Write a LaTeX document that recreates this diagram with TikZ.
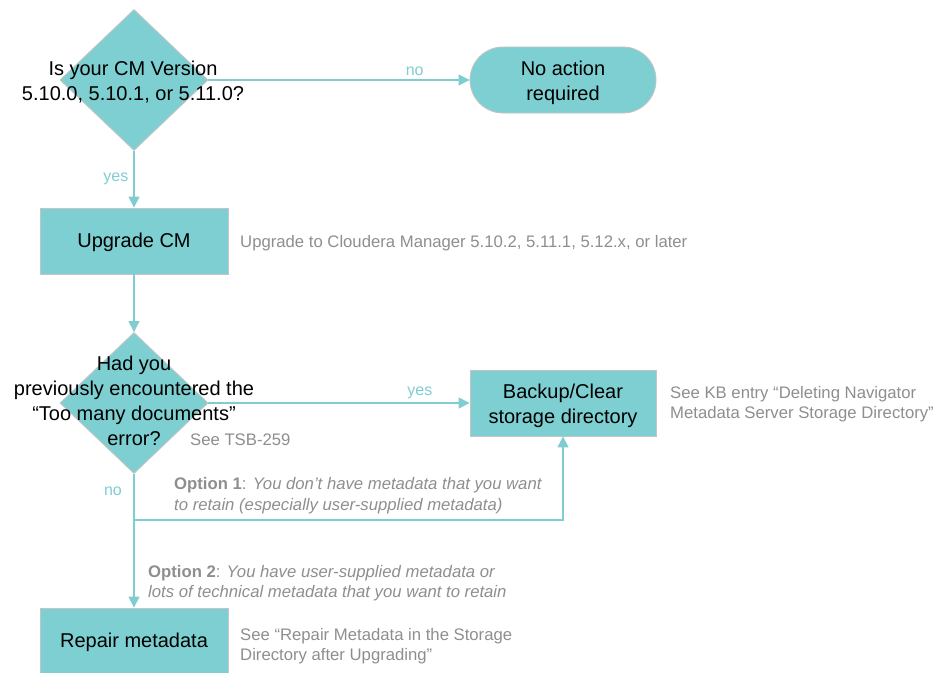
\documentclass[tikz,border=0pt]{standalone}
\usepackage{fontspec}
\setmainfont{Liberation Sans}
\usetikzlibrary{shapes.geometric,arrows.meta}
\definecolor{teal1}{HTML}{7ECFD1}
\definecolor{tealline}{HTML}{7FCDD0}
\definecolor{edgegray}{HTML}{C4C4C4}
\definecolor{txtgray}{HTML}{8E8E8E}
\tikzset{
  box/.style={rectangle, fill=teal1, draw=edgegray, line width=0.9pt, minimum width=188pt, minimum height=66pt, inner sep=0pt},
  term/.style={rectangle, rounded corners=33pt, fill=teal1, draw=edgegray, line width=0.9pt, minimum width=186pt, minimum height=66pt, inner sep=0pt},
  dia/.style={diamond, fill=teal1, draw=edgegray, line width=0.9pt, minimum width=148pt, minimum height=141pt, inner sep=0pt},
  main/.style={font=\fontsize{20}{25}\selectfont, align=center, text=black, inner sep=0pt},
  note/.style={font=\fontsize{16.7}{19.5}\selectfont, align=left, text=txtgray, anchor=west, inner sep=0pt},
  lab/.style={font=\fontsize{16}{18}\selectfont, text=tealline, inner sep=0pt},
  arr/.style={draw=tealline, line width=1.3pt, -{Triangle[length=11pt,width=11pt]}},
}
\begin{document}
\begin{tikzpicture}[x=1pt,y=-1pt]
\useasboundingbox (0,0) rectangle (936,672);
% shapes
\node[dia] (d1) at (134,80) {};
\node[main] (d1t) at (133,82.5) {Is your CM Version\\5.10.0, 5.10.1, or 5.11.0?};
\node[term] (noact) at (563,80) {};
\node[main] (noactt) at (563,83) {No action\\required};
\node[box] (upg) at (134,241) {};
\node[main] (upgt) at (134,242) {Upgrade CM};
\node[note] (upgn) at (240,243) {Upgrade to Cloudera Manager 5.10.2, 5.11.1, 5.12.x, or later};
\node[dia] (d2) at (134,403) {};
\node[main] (d2t) at (134,401) {Had you\\previously encountered the\\“Too many documents”\\error?};
\node[note] (tsb) at (190,440) {See TSB-259};
\node[box, minimum width=186pt] (bkp) at (563,403) {};
\node[main] (bkpt) at (563,405.5) {Backup/Clear\\storage directory};
\node[note] (kb) at (670,404) {See KB entry “Deleting Navigator\\Metadata Server Storage Directory”};
\node[box, minimum height=80pt] (rep) at (134,648) {};
\node[main] (rept) at (134,642) {Repair metadata};
\node[note] (repn) at (240,646) {See “Repair Metadata in the Storage\\Directory after Upgrading”};
\node[note, font=\fontsize{16.7}{21}\selectfont] (opt1) at (174,496) {\textbf{Option 1}: \textit{You don’t have metadata that you want}\\\textit{to retain (especially user-supplied metadata)}};
\node[note] (opt2) at (148,583) {\textbf{Option 2}: \textit{You have user-supplied metadata or}\\\textit{lots of technical metadata that you want to retain}};
% connectors
\draw[arr] (d1.east) -- (noact.west) node[lab, pos=0.79, above=4pt] (lno1) {no};
\draw[arr] (d1.south) -- (upg.north) node[lab, midway, left=5pt] (lyes1) {yes};
\draw[arr] (upg.south) -- (d2.north);
\draw[arr] (d2.east) -- (bkp.west) node[lab, pos=0.81, above=4pt] (lyes2) {yes};
\coordinate (j1) at (134,520);
\draw[arr] (d2.south) -- (rep.north);
\node[lab] (lno2) at (113,491) {no};
\draw[arr] (j1) -| (bkp.south);
\end{tikzpicture}
\end{document}
